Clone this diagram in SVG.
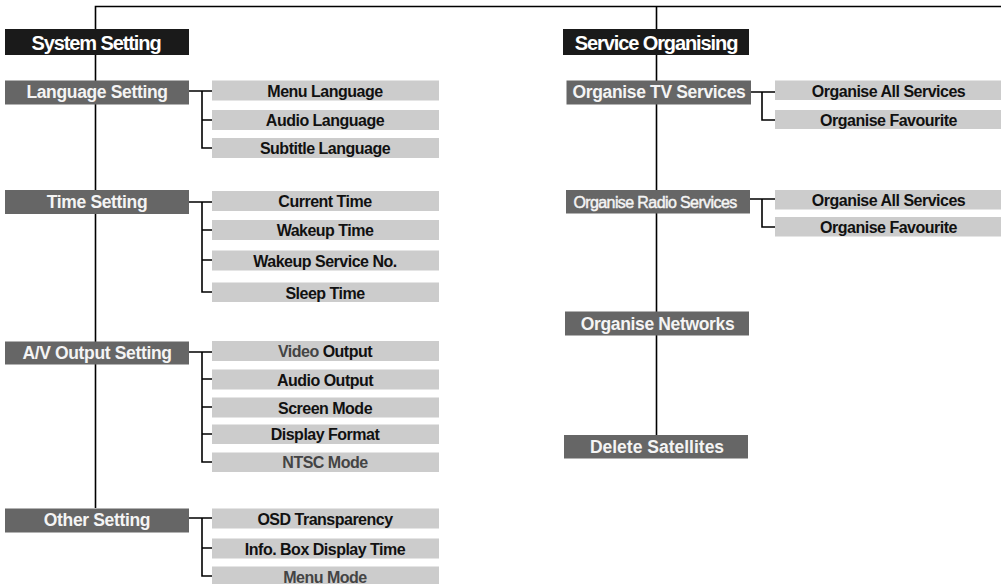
<svg xmlns="http://www.w3.org/2000/svg" width="1001" height="584" viewBox="0 0 1001 584">
<style>
.hdr{fill:#1a1a1a}
.mid{fill:#666666}
.leaf{fill:#cccccc}
.th{font-family:"Liberation Sans",Arial,sans-serif;font-weight:bold;font-size:20px;letter-spacing:-1.1px;fill:#ffffff;text-anchor:middle}
.tm{font-family:"Liberation Sans",Arial,sans-serif;font-weight:bold;font-size:17.5px;letter-spacing:-0.35px;fill:#f4f4f4;text-anchor:middle}
.tr{font-family:"Liberation Sans",Arial,sans-serif;font-weight:normal;font-size:16px;letter-spacing:-0.6px;fill:#f4f4f4;stroke:#f4f4f4;stroke-width:0.45px;text-anchor:middle}
.tl{font-family:"Liberation Sans",Arial,sans-serif;font-weight:bold;font-size:16px;letter-spacing:-0.5px;fill:#111111;text-anchor:middle}
.gr{fill:#444444}
.ln{fill:none;stroke:#000000;stroke-width:1.6}
</style>
<g id="connectors" class="ln">
<path d="M95.5,508 V6.5 H1001"/>
<path d="M656.5,6.5 V435"/>
<path d="M189,91 H212 M202,91 V148 H212 M202,120 H212"/>
<path d="M189,202 H212 M202,202 V292 H212 M202,230 H212 M202,260 H212"/>
<path d="M189,352 H212 M202,352 V462 H212 M202,379 H212 M202,407 H212 M202,434 H212"/>
<path d="M189,518 H212 M202,518 V576 H212 M202,548 H212"/>
<path d="M751,92 H775 M762,92 V120 H775"/>
<path d="M750,199 H775 M762,199 V227 H775"/>
</g>
<g id="system-setting"><rect class="hdr" x="5" y="29" width="184" height="26"/><text class="th" x="96" y="50">System Setting</text></g>
<g id="language-setting"><rect class="mid" x="5" y="80.5" width="184" height="24"/><text class="tm" x="97" y="98.2">Language Setting</text></g>
<g id="menu-language"><rect class="leaf" x="212" y="80.5" width="227" height="20"/><text class="tl" x="325" y="96.5">Menu Language</text></g>
<g id="audio-language"><rect class="leaf" x="212" y="110" width="227" height="20"/><text class="tl" x="325" y="126">Audio Language</text></g>
<g id="subtitle-language"><rect class="leaf" x="212" y="138" width="227" height="20"/><text class="tl" x="325" y="154">Subtitle Language</text></g>
<g id="time-setting"><rect class="mid" x="5" y="190" width="184" height="24"/><text class="tm" x="97" y="207.7">Time Setting</text></g>
<g id="current-time"><rect class="leaf" x="212" y="191" width="227" height="20"/><text class="tl" x="325" y="207">Current Time</text></g>
<g id="wakeup-time"><rect class="leaf" x="212" y="220" width="227" height="20"/><text class="tl" x="325" y="236">Wakeup Time</text></g>
<g id="wakeup-service"><rect class="leaf" x="212" y="250.5" width="227" height="20"/><text class="tl" x="325" y="266.5">Wakeup Service No.</text></g>
<g id="sleep-time"><rect class="leaf" x="212" y="282.5" width="227" height="19.5"/><text class="tl" x="325" y="298.5">Sleep Time</text></g>
<g id="av-output-setting"><rect class="mid" x="5" y="341.5" width="184" height="23"/><text class="tm" x="97" y="358.7">A/V Output Setting</text></g>
<g id="video-output"><rect class="leaf" x="212" y="341" width="227" height="20"/><text class="tl" x="325" y="357"><tspan class="gr">Video</tspan> Output</text></g>
<g id="audio-output"><rect class="leaf" x="212" y="369.5" width="227" height="20"/><text class="tl" x="325" y="385.5">Audio Output</text></g>
<g id="screen-mode"><rect class="leaf" x="212" y="397.5" width="227" height="20"/><text class="tl" x="325" y="413.5">Screen Mode</text></g>
<g id="display-format"><rect class="leaf" x="212" y="424.5" width="227" height="19.5"/><text class="tl" x="325" y="440">Display Format</text></g>
<g id="ntsc-mode"><rect class="leaf" x="212" y="452.5" width="227" height="19.5"/><text class="tl gr" x="325" y="468">NTSC Mode</text></g>
<g id="other-setting"><rect class="mid" x="5" y="508.5" width="184" height="24"/><text class="tm" x="97" y="526.2">Other Setting</text></g>
<g id="osd-transparency"><rect class="leaf" x="212" y="508.5" width="227" height="20"/><text class="tl" x="325" y="524.5">OSD Transparency</text></g>
<g id="info-box"><rect class="leaf" x="212" y="538.5" width="227" height="20"/><text class="tl" x="325" y="554.5">Info. Box Display Time</text></g>
<g id="menu-mode"><rect class="leaf" x="212" y="566.5" width="227" height="19"/><text class="tl gr" x="325" y="582.5">Menu Mode</text></g>
<g id="service-organising"><rect class="hdr" x="563" y="29" width="186" height="26"/><text class="th" x="656" y="50">Service Organising</text></g>
<g id="organise-tv"><rect class="mid" x="566.5" y="80.5" width="184.5" height="24"/><text class="tm" x="659" y="98.2">Organise TV Services</text></g>
<g id="tv-all"><rect class="leaf" x="775" y="80.5" width="226" height="19.5"/><text class="tl" x="888.5" y="96.5">Organise All Services</text></g>
<g id="tv-fav"><rect class="leaf" x="775" y="110" width="226" height="19"/><text class="tl" x="888.5" y="125.5">Organise Favourite</text></g>
<g id="organise-radio"><rect class="mid" x="566" y="190" width="184" height="23.5"/><text class="tr" x="655" y="207.5">Organise Radio Services</text></g>
<g id="radio-all"><rect class="leaf" x="775" y="190" width="226" height="19.5"/><text class="tl" x="888.5" y="206">Organise All Services</text></g>
<g id="radio-fav"><rect class="leaf" x="775" y="217" width="226" height="19.5"/><text class="tl" x="888.5" y="233">Organise Favourite</text></g>
<g id="organise-networks"><rect class="mid" x="565" y="311.5" width="184" height="24"/><text class="tm" x="657.5" y="329.7">Organise Networks</text></g>
<g id="delete-satellites"><rect class="mid" x="564" y="435" width="184" height="23.5"/><text class="tm" x="657" y="453" style="font-size:17.5px;letter-spacing:0px">Delete Satellites</text></g>
</svg>
